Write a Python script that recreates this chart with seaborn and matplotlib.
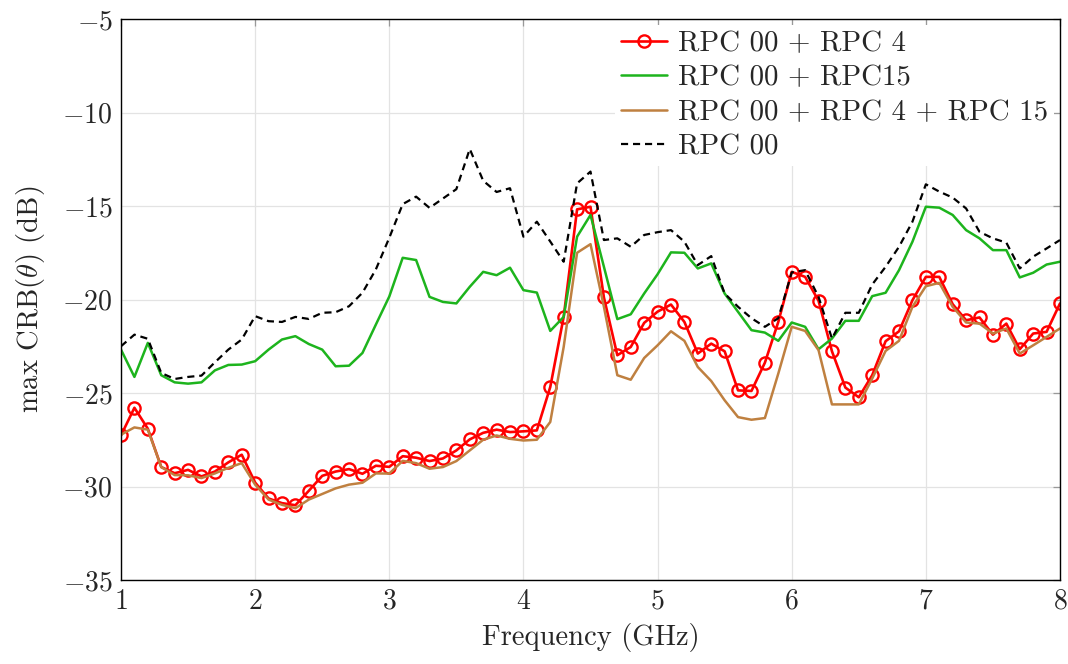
import numpy as np
import pandas as pd
import seaborn as sns
import matplotlib.pyplot as plt

# frequency grid (GHz), 0.1 GHz steps
freq = np.round(np.linspace(1.0, 8.0, 71), 1)

rpc00_rpc4 = [-27.27, -25.79, -26.91, -28.96, -29.29, -29.11, -29.46, -29.20, -28.71, -28.30,
              -29.79, -30.64, -30.89, -31.00, -30.23, -29.43, -29.20, -29.07, -29.32, -28.89,
              -28.95, -28.38, -28.46, -28.64, -28.50, -28.07, -27.48, -27.13, -26.96, -27.09,
              -27.05, -27.00, -24.68, -20.93, -15.18, -15.04, -19.89, -22.98, -22.54, -21.25,
              -20.65, -20.27, -21.20, -22.89, -22.36, -22.77, -24.86, -24.89, -23.38, -21.20,
              -18.52, -18.79, -20.07, -22.77, -24.71, -25.23, -24.05, -22.23, -21.70, -20.04,
              -18.79, -18.79, -20.25, -21.11, -20.96, -21.88, -21.29, -22.66, -21.82, -21.73, -20.21]

rpc00_rpc15 = [-22.68, -24.14, -22.32, -24.05, -24.43, -24.50, -24.43, -23.79, -23.50, -23.48,
               -23.30, -22.68, -22.14, -21.96, -22.38, -22.68, -23.57, -23.54, -22.86, -21.34,
               -19.84, -17.77, -17.89, -19.86, -20.13, -20.21, -19.32, -18.52, -18.70, -18.30,
               -19.50, -19.63, -21.68, -20.93, -16.64, -15.48, -18.25, -21.05, -20.79, -19.68,
               -18.65, -17.48, -17.50, -18.34, -18.07, -19.68, -20.66, -21.64, -21.77, -22.21,
               -21.23, -21.46, -22.66, -22.09, -21.14, -21.14, -19.82, -19.64, -18.43, -16.91,
               -15.04, -15.09, -15.48, -16.29, -16.73, -17.36, -17.36, -18.82, -18.57, -18.13, -17.98]

rpc00_rpc4_rpc15 = [-27.23, -26.84, -26.96, -28.96, -29.39, -29.40, -29.55, -29.30, -29.00, -28.75,
                    -29.90, -30.70, -30.98, -31.16, -30.70, -30.40, -30.10, -29.90, -29.80, -29.30,
                    -29.31, -28.63, -28.75, -29.05, -28.96, -28.64, -28.07, -27.50, -27.27, -27.45,
                    -27.54, -27.50, -26.55, -22.54, -17.50, -17.04, -20.39, -24.05, -24.29, -23.13,
                    -22.45, -21.70, -22.21, -23.61, -24.36, -25.39, -26.29, -26.43, -26.34, -23.96,
                    -21.46, -21.68, -22.71, -25.61, -25.61, -25.61, -24.23, -22.75, -22.21, -20.39,
                    -19.29, -19.11, -20.39, -21.23, -21.29, -21.82, -21.55, -22.89, -22.45, -22.00, -21.55]

rpc00 = [-22.50, -21.88, -22.10, -23.93, -24.25, -24.14, -24.07, -23.36, -22.68, -22.14,
         -20.89, -21.16, -21.20, -20.93, -21.04, -20.71, -20.68, -20.36, -19.64, -18.39,
         -16.70, -14.90, -14.50, -15.10, -14.60, -14.10, -11.95, -13.65, -14.25, -14.05,
         -16.64, -15.84, -16.90, -17.98, -13.79, -13.16, -16.82, -16.73, -17.18, -16.55,
         -16.40, -16.29, -16.91, -18.16, -17.68, -19.68, -20.39, -21.00, -21.46, -21.00,
         -18.55, -18.43, -19.86, -22.09, -20.71, -20.71, -19.20, -18.25, -17.18, -15.84,
         -13.84, -14.23, -14.55, -15.13, -16.38, -16.73, -16.96, -18.34, -17.71, -17.27, -16.82]

labels = ["RPC 00 + RPC 4", "RPC 00 + RPC15", "RPC 00 + RPC 4 + RPC 15", "RPC 00"]

sns.set_style("whitegrid")
plt.rcParams['font.family'] = ['cmr10', 'DejaVu Serif']
plt.rcParams['mathtext.fontset'] = 'cm'
plt.rcParams['axes.formatter.use_mathtext'] = True
plt.rcParams['axes.unicode_minus'] = True

fig = plt.figure(figsize=(10.68, 6.64), dpi=100)
ax = fig.add_axes([121 / 1068, 84 / 664, 939 / 1068, 561 / 664])

sns.lineplot(x=freq, y=rpc00_rpc4, ax=ax, color='#ff0000', lw=1.9, marker='o',
             markersize=8.8, markerfacecolor='none', markeredgecolor='#ff0000',
             markeredgewidth=1.7, label=labels[0])
sns.lineplot(x=freq, y=rpc00_rpc15, ax=ax, color='#1db41d', lw=1.8, label=labels[1])
sns.lineplot(x=freq, y=rpc00_rpc4_rpc15, ax=ax, color='#bf8040', lw=1.8, label=labels[2])
sns.lineplot(x=freq, y=rpc00, ax=ax, color='black', lw=1.6, dashes=False,
             label=labels[3])
ax.lines[-1].set_dashes([3.2, 2.2])

ax.set_xlim(1, 8)
ax.set_ylim(-35, -5)
ax.set_xticks(range(1, 9))
ax.set_yticks(range(-35, -4, 5))
ax.grid(True, color='#e3e3e3', lw=0.9)
for s in ax.spines.values():
    s.set_color('black')
    s.set_linewidth(1.0)
ax.tick_params(direction='in', length=5, width=0.9, color='#999999',
               labelsize=20, top=True, right=True, pad=6)
ax.set_xlabel("Frequency (GHz)", fontsize=20.6, labelpad=6)
ax.set_ylabel(r"max CRB($\theta$) (dB)", fontsize=20.6, labelpad=11)

leg = ax.legend(loc='upper right', fontsize=20.8, frameon=True, facecolor='white',
                edgecolor='white', framealpha=1, handlelength=1.6, handletextpad=0.4,
                labelspacing=0.28, borderpad=0.2, borderaxespad=0.2)
leg.get_frame().set_linewidth(0)

fig.savefig("out.png", dpi=100)
